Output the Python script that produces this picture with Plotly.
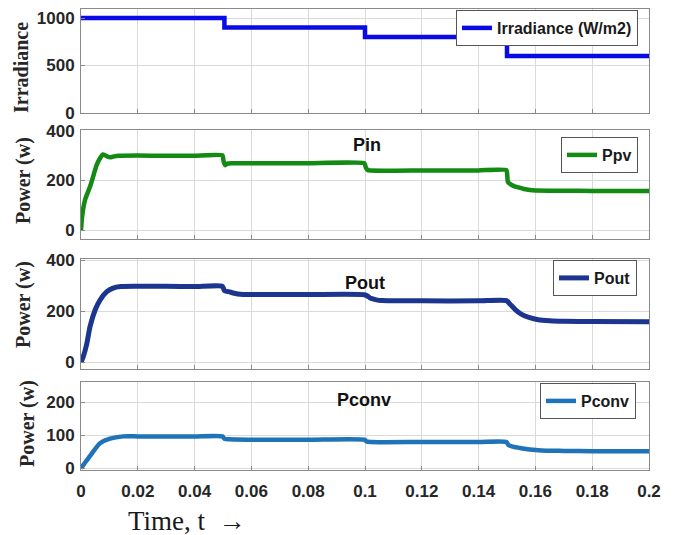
import plotly.graph_objects as go

# ---- data ----
t_irr = [0, 0.0505, 0.1, 0.15, 0.2]
irr = [1000, 900, 800, 600, 600]

t_ppv = [0, 0.0003, 0.0007, 0.0015, 0.0032, 0.0045, 0.0055, 0.0068, 0.0077, 0.0085, 0.0095,
         0.0102, 0.0115, 0.013, 0.02, 0.03, 0.04, 0.0498, 0.0502, 0.0508, 0.0515, 0.053,
         0.06, 0.08, 0.0998, 0.1003, 0.101, 0.12, 0.14, 0.1498, 0.1503, 0.152, 0.154,
         0.156, 0.158, 0.16, 0.17, 0.18, 0.2]
ppv = [0, 45, 82, 125, 176, 225, 262, 292, 305, 302, 296,
       294, 297, 300, 301, 300, 300, 302, 278, 262, 268, 270,
       270, 270, 270, 252, 242, 241, 241, 242, 195, 180, 172,
       166, 162, 160, 159, 158, 158]

t_pout = [0, 0.0007, 0.002, 0.0032, 0.005, 0.0067, 0.009, 0.0113, 0.014, 0.02, 0.03, 0.04,
          0.0498, 0.0505, 0.052, 0.054, 0.056, 0.06, 0.08, 0.0998, 0.101, 0.102, 0.104,
          0.106, 0.12, 0.14, 0.1498, 0.151, 0.153, 0.155, 0.158, 0.161, 0.165, 0.17, 0.18, 0.2]
pout = [0, 18, 70, 140, 205, 243, 275, 290, 296, 297, 297, 296,
        297, 280, 276, 270, 266, 265, 265, 264, 258, 250, 244,
        241, 240, 240, 241, 228, 205, 188, 174, 166, 162, 160, 159, 158]

t_pconv = [0, 0.0008, 0.0032, 0.0067, 0.0102, 0.0148, 0.02, 0.03, 0.04, 0.0498, 0.0505,
           0.052, 0.06, 0.08, 0.0998, 0.1005, 0.102, 0.12, 0.14, 0.1498, 0.1505, 0.152,
           0.155, 0.158, 0.162, 0.17, 0.18, 0.2]
pconv = [0, 9, 37, 75, 89, 96, 96, 96, 96, 96, 89,
         87, 86, 86, 86, 81, 79, 79, 79, 79, 70, 65,
         60, 56, 53, 52, 51, 51]

x_ticks = [0, 0.02, 0.04, 0.06, 0.08, 0.1, 0.12, 0.14, 0.16, 0.18, 0.2]
x_ticklabels = ["0", "0.02", "0.04", "0.06", "0.08", "0.1", "0.12", "0.14", "0.16", "0.18", "0.2"]

OFF = 8  # page body margin
W, H = 678 - OFF, 535 - OFF
L, R = 81, 649  # plot area left/right in window pixels

def py(px):
    return 1 - (px - OFF) / H

def px_x(px):
    return (px - L) / (R - L)

fig = go.Figure()
fig.add_trace(go.Scatter(x=t_irr, y=irr, mode="lines", line=dict(color="#0a0ae6", width=4.5, shape="hv"),
                         name="Irradiance (W/m2)", xaxis="x", yaxis="y", legend="legend"))
fig.add_trace(go.Scatter(x=t_ppv, y=ppv, mode="lines", line=dict(color="#138a13", width=4.5, shape="spline", smoothing=0.4),
                         name="Ppv", xaxis="x2", yaxis="y2", legend="legend2"))
fig.add_trace(go.Scatter(x=t_pout, y=pout, mode="lines", line=dict(color="#1c358f", width=5, shape="spline", smoothing=0.6),
                         name="Pout", xaxis="x3", yaxis="y3", legend="legend3"))
fig.add_trace(go.Scatter(x=t_pconv, y=pconv, mode="lines", line=dict(color="#1f73b8", width=4.5, shape="spline", smoothing=0.6),
                         name="Pconv", xaxis="x4", yaxis="y4", legend="legend4"))

tickfont = dict(family="Arial", size=17, color="#262626", weight="bold")
gridc = "#dadada"
framec = "#8a8a8a"

domains = [(113, 9), (239, 130), (369, 259), (470, 382)]
yranges = [[0, 1095], [-36, 404], [-27, 404], [-6, 261]]
yticks = [[0, 500, 1000], [0, 200, 400], [0, 200, 400], [0, 100, 200]]

layout = {}
for i in range(4):
    sx = "" if i == 0 else str(i + 1)
    layout["xaxis" + sx] = dict(
        domain=[0, 1], range=[0, 0.2], anchor="y" + sx,
        tickvals=x_ticks, ticktext=x_ticklabels, showticklabels=(i == 3),
        showgrid=True, gridcolor=gridc, gridwidth=1, zeroline=False,
        showline=True, linecolor=framec, linewidth=1, mirror=True,
        ticks="inside", ticklen=4, tickcolor=framec, ticklabelstandoff=6,
        tickfont=tickfont, automargin=False, fixedrange=True,
    )
    b, t = domains[i]
    layout["yaxis" + sx] = dict(
        domain=[py(b), py(t)], range=yranges[i], anchor="x" + sx,
        tickvals=yticks[i], showgrid=True, gridcolor=gridc, gridwidth=1, zeroline=False,
        showline=True, linecolor=framec, linewidth=1, mirror=True,
        ticks="inside", ticklen=4, tickcolor=framec, ticklabelstandoff=2,
        tickfont=tickfont, automargin=False, fixedrange=True,
    )

leg_common = dict(bgcolor="white", bordercolor="#555555", borderwidth=1, xanchor="right", yanchor="top",
                  font=dict(family="Arial", size=16, color="#1a1a1a", weight="bold"), itemwidth=30,
                  tracegroupgap=0)
layout["legend"] = dict(leg_common, x=px_x(638), y=py(10))
layout["legend2"] = dict(leg_common, x=px_x(638), y=py(137))
layout["legend3"] = dict(leg_common, x=px_x(637), y=py(260))
layout["legend4"] = dict(leg_common, x=px_x(636), y=py(383))

fig.update_layout(**layout)

ann_font = dict(family="Arial", size=18, color="#111111", weight="bold")
serif = dict(family="Liberation Serif", size=20, color="#262626", weight="bold")
annotations = [
    dict(text="Pin", x=367, y=145, font=ann_font),
    dict(text="Pout", x=365, y=283, font=ann_font),
    dict(text="Pconv", x=364, y=400, font=ann_font),
    dict(text="Irradiance", x=21, y=68, font=serif, textangle=-90),
    dict(text="Power (w)", x=23, y=181, font=serif, textangle=-90),
    dict(text="Power (w)", x=23, y=305, font=serif, textangle=-90),
    dict(text="Power (w)", x=27, y=424, font=serif, textangle=-90),
    dict(text="Time, t  \u2192", x=187, y=521, font=dict(family="Liberation Serif", size=27, color="#1a1a1a")),
]
for a in annotations:
    fig.add_annotation(text=a["text"], x=px_x(a["x"]), y=py(a["y"]), xref="paper", yref="paper",
                       showarrow=False, font=a["font"], textangle=a.get("textangle", 0),
                       xanchor="center", yanchor="middle")

fig.update_layout(
    width=W, height=H, margin=dict(l=L - OFF, r=W - (R - OFF), t=0, b=0),
    paper_bgcolor="white", plot_bgcolor="white", showlegend=True,
)

fig.write_html("out.html")
